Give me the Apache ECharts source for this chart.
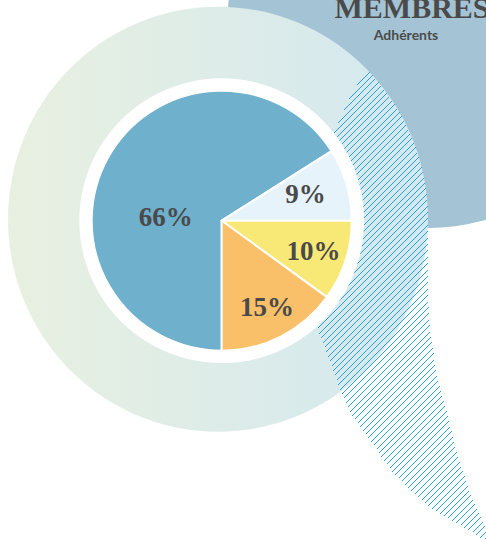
<!DOCTYPE html>
<html><head><meta charset="utf-8">
<script src="https://cdn.jsdelivr.net/npm/echarts@6/dist/echarts.min.js"></script>
<style>html,body{margin:0;padding:0;background:#fff}#c{width:486px;height:539px}</style>
</head><body><div id="c"></div>
<script>
// ---- data ----
const shareNames = ['Groupe A', 'Groupe B', 'Groupe C', 'Groupe D'];
const shareValues = [66, 9, 10, 15];
const titleText = 'MEMBRES';
const subtitleText = 'Adhérents';

// ---- styling / layout ----
const sliceColors = ['#6fb0cd', '#e7f3fb', '#f8e977', '#f9bf69'];
const labelNudge = [[3.6, 28.9], [18.6, -7.6], [27.2, 9.2], [14.5, 25.4]];
const pieCx = 221.7, pieCy = 220.7;

// ring ellipse
const ring = {cx: 218, cy: 219.2, rx: 210, ry: 212.5};
function ringRightX(y) {
  const t = (y - ring.cy) / ring.ry;
  return ring.cx + ring.rx * Math.sqrt(Math.max(0, 1 - t * t));
}
// hatch (speech tail) outline
let pts = [];
for (let y = 69; y <= 219; y += 5) pts.push([ringRightX(y), y]);
pts = pts.concat([[428, 219], [428, 260], [428, 300], [430, 330], [437, 377], [447, 413], [457, 453], [470, 493], [485, 527], [492, 545],
  [486, 545], [480, 537], [457, 523], [433, 510], [410, 490], [393, 473], [372, 443], [353, 417], [343, 397], [333, 370], [323, 343], [317, 327],
  [314, 300], [325, 200], [334, 132], [340, 118], [350, 97]]);

// crisp pixel-stepped diagonal hatch lines, clipped to the outline
const hatchStep = 6.4;
const hatchLines = [];
(function () {
  let cmin = Infinity, cmax = -Infinity;
  pts.forEach(p => { cmin = Math.min(cmin, p[0] + p[1]); cmax = Math.max(cmax, p[0] + p[1]); });
  for (let k = Math.ceil(cmin / hatchStep); k * hatchStep <= cmax; k++) {
    const c = Math.round(k * hatchStep);
    const xs = [];
    for (let i = 0; i < pts.length; i++) {
      const a = pts[i], b = pts[(i + 1) % pts.length];
      const s1 = a[0] + a[1] - c, s2 = b[0] + b[1] - c;
      if ((s1 < 0 && s2 >= 0) || (s1 >= 0 && s2 < 0)) {
        const t = s1 / (s1 - s2);
        xs.push(a[0] + t * (b[0] - a[0]));
      }
    }
    xs.sort((m, n) => m - n);
    for (let q = 0; q + 1 < xs.length; q += 2) {
      const i0 = Math.round(xs[q]), i1 = Math.round(xs[q + 1]) - 1;
      if (i1 < i0) continue;
      const up = [], down = [];
      for (let i = i0; i <= i1; i++) {
        const j = c - i - 1;        // pixel row
        up.push([i, j], [i + 1, j]);
        down.push([i, j + 1], [i + 1, j + 1]);
      }
      const poly = up.concat(down.reverse());
      hatchLines.push({type: 'polygon', z: 4, silent: true, shape: {points: poly},
        style: {fill: '#27a2dd'}});
    }
  }
})();

const chart = echarts.init(document.getElementById('c'), null, {renderer: 'svg'});
chart.setOption({
  animation: false,
  backgroundColor: '#ffffff',
  graphic: [
    {type: 'circle', z: 1, silent: true, shape: {cx: 429, cy: 26, r: 202}, style: {fill: '#a4c3d4'}},
    {type: 'text', z: 2, silent: true, style: {text: titleText, x: 412, y: 7, align: 'center', verticalAlign: 'middle',
      font: 'bold 30px "Liberation Serif"', fill: '#4a4a4a'}},
    {type: 'text', z: 2, silent: true, style: {text: subtitleText, x: 406, y: 34, align: 'center', verticalAlign: 'middle',
      font: 'bold 14px Lato', fill: '#4b4b4b'}},
    {type: 'ellipse', z: 3, silent: true, shape: ring,
      style: {fill: new echarts.graphic.LinearGradient(0, 0, 1, 0, [{offset: 0, color: '#e8f0e0'}, {offset: 1, color: '#d3e8f0'}])}},
    {type: 'group', z: 4, silent: true, children: hatchLines},
    {type: 'circle', z: 5, silent: true, shape: {cx: pieCx, cy: pieCy, r: 142.4}, style: {fill: '#ffffff'}}
  ],
  series: [{
    type: 'pie',
    z: 10,
    center: [pieCx, pieCy],
    radius: [0, 130],
    startAngle: 270,
    clockwise: true,
    silent: true,
    itemStyle: {borderColor: '#ffffff', borderWidth: 2},
    label: {show: true, position: 'inside', formatter: '{c}%', color: '#4a4a4a',
      fontFamily: 'Liberation Serif', fontWeight: 'bold', fontSize: 27},
    labelLine: {show: false},
    labelLayout: function (p) { const n = labelNudge[p.dataIndex]; return {dx: n[0], dy: n[1]}; },
    emphasis: {disabled: true},
    data: shareValues.map((v, i) => ({name: shareNames[i], value: v, itemStyle: {color: sliceColors[i]}}))
  }]
});
</script>
</body></html>
